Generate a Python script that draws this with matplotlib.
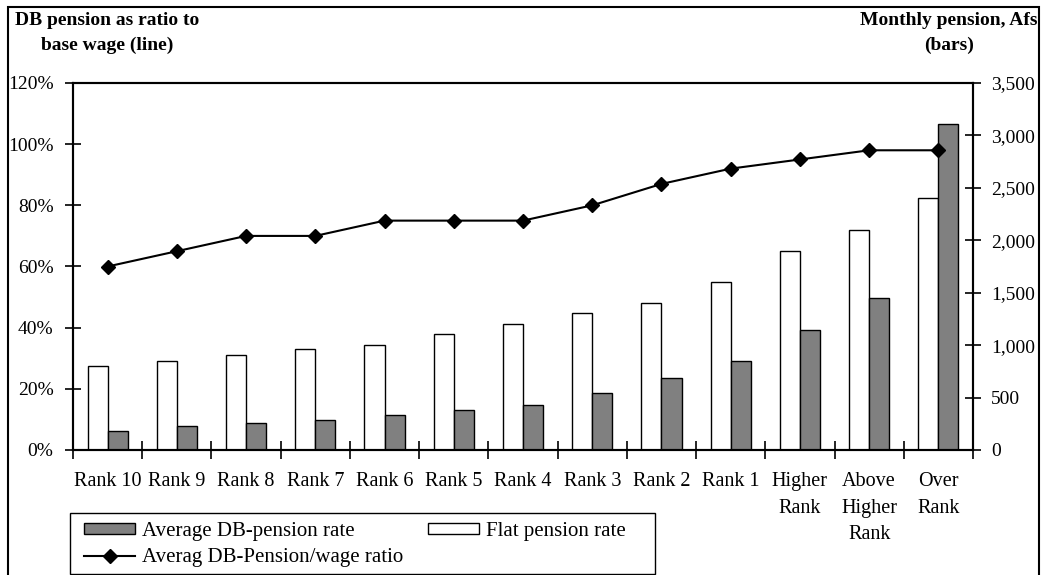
import numpy as np
import matplotlib
matplotlib.use("Agg")
import matplotlib.pyplot as plt
from matplotlib.patches import Patch, Rectangle
from matplotlib.lines import Line2D
from matplotlib.ticker import FuncFormatter, MultipleLocator

# pension levels by rank (Afs per month) and DB pension / base wage ratio (%)
ranks = ["Rank 10", "Rank 9", "Rank 8", "Rank 7", "Rank 6", "Rank 5", "Rank 4",
         "Rank 3", "Rank 2", "Rank 1", "Higher\nRank", "Above\nHigher\nRank", "Over\nRank"]
flat_pension = [800, 850, 910, 960, 1000, 1110, 1200, 1310, 1400, 1600, 1900, 2100, 2400]
db_pension = [180, 225, 255, 285, 335, 380, 425, 545, 685, 850, 1145, 1450, 3110]
db_wage_ratio = [60, 65, 70, 70, 75, 75, 75, 80, 87, 92, 95, 98, 98]

plt.rcParams['font.family'] = ['Liberation Serif', 'DejaVu Serif']
plt.rcParams['font.size'] = 14

W, H = 1045, 575
fig = plt.figure(figsize=(W / 100, H / 100), dpi=100)
ax = fig.add_axes([73 / W, 125 / H, 900 / W, 367 / H])
ax2 = ax.twinx()

x = np.arange(len(ranks))
bw = 0.29

# bars on the right-hand axis
ax2.bar(x - bw / 2, flat_pension, bw, color='white', edgecolor='black', linewidth=1.0)
ax2.bar(x + bw / 2, db_pension, bw, color='#808080', edgecolor='black', linewidth=1.0)
ax2.set_ylim(0, 3500)
ax2.yaxis.set_major_locator(MultipleLocator(500))
ax2.yaxis.set_major_formatter(FuncFormatter(lambda v, p: f"{v:,.0f}"))
ax2.tick_params(axis='y', direction='inout', length=12, width=1.2, pad=7)

# ratio line on the left-hand axis, kept above the bars
ax.set_zorder(ax2.get_zorder() + 1)
ax.patch.set_visible(False)
ax.plot(x, np.array(db_wage_ratio) / 100, color='black', lw=1.5,
        marker='D', ms=7, clip_on=False)
ax.set_ylim(0, 1.2)
ax.yaxis.set_major_locator(MultipleLocator(0.2))
ax.yaxis.set_major_formatter(FuncFormatter(lambda v, p: f"{v:.0%}"))
ax.tick_params(axis='y', direction='inout', length=12, width=1.2, pad=8)

ax.set_xlim(-0.5, len(ranks) - 0.5)
ax.set_xticks(np.arange(-0.5, len(ranks)))
ax.set_xticks(x, labels=ranks, minor=True)
ax.tick_params(axis='x', which='major', direction='inout', length=13, width=1.2,
               labelbottom=False)
ax.tick_params(axis='x', which='minor', length=0, pad=16, labelsize=14.5)
for lbl in ax.get_xticklabels(minor=True):
    lbl.set_linespacing(1.52)

for a in (ax, ax2):
    for s in a.spines.values():
        s.set_linewidth(1.5)

# axis titles
fig.text(107 / W, 1 - 33 / H, "DB pension as ratio to\nbase wage (line)",
         ha='center', va='center', fontweight='bold', linespacing=1.55)
fig.text(949 / W, 1 - 33 / H, "Monthly pension, Afs\n(bars)",
         ha='center', va='center', fontweight='bold', linespacing=1.55)

# legend with its own box
handles = [Patch(facecolor='#808080', edgecolor='black', lw=1),
           Line2D([], [], color='black', lw=1.5, marker='D', ms=7),
           Patch(facecolor='white', edgecolor='black', lw=1)]
labels = ['Average DB-pension rate', 'Averag DB-Pension/wage ratio', 'Flat pension rate']
fig.legend(handles, labels, ncol=2, loc='upper left',
           bbox_to_anchor=(84 / W, 1 - 522 / H), frameon=False,
           borderpad=0, borderaxespad=0, handlelength=2.45, handleheight=0.48,
           handletextpad=0.34, columnspacing=1.2, labelspacing=0.35, fontsize=15)
fig.add_artist(Rectangle((70 / W, 1 / H), 585 / W, 61 / H, transform=fig.transFigure,
                         fill=False, edgecolor='black', linewidth=1.0))

# outer chart border
fig.add_artist(Rectangle((8 / W, -0.02), 1031 / W, 1.02 - 7 / H, transform=fig.transFigure,
                         fill=False, edgecolor='black', linewidth=1.5))

fig.savefig("out.png", dpi=100)
